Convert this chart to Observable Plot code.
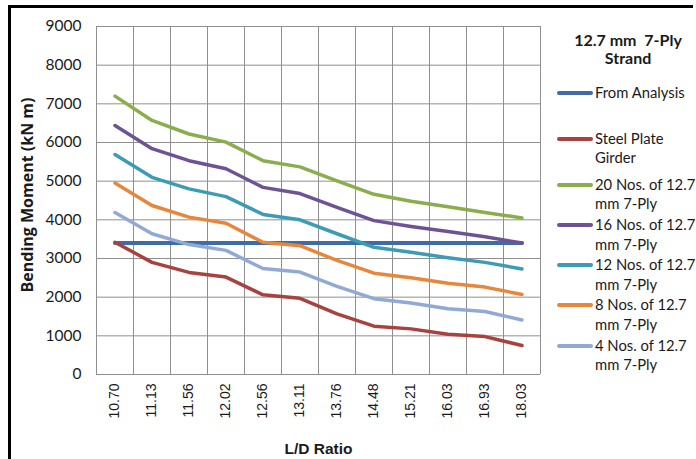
<!DOCTYPE html>
<html>
<head>
<meta charset="utf-8">
<script src="https://cdn.jsdelivr.net/npm/d3@7"></script>
<script src="https://cdn.jsdelivr.net/npm/@observablehq/plot@0.6"></script>
<style>
  html, body { margin: 0; padding: 0; background: #fff; }
  #wrap { position: relative; width: 696px; height: 459px; overflow: hidden; background: #fff; }
  #frame { position: absolute; left: 8px; top: 5px; width: 682px; height: 470px;
           border-left: 3px solid #000; border-top: 3px solid #000; pointer-events: none; }
  #legend { position: absolute; left: 540px; top: 0; width: 156px; height: 459px;
            font-family: Lato, "Open Sans", sans-serif; color: #1a1a1a; }
  #legend .title { position: absolute; left: 10px; width: 156px; text-align: center;
                   font-weight: bold; font-size: 16px; line-height: 19px; }
  #legend .item { position: absolute; left: 55px; font-size: 14.8px; line-height: 19.5px; white-space: nowrap; }
  #legend .sw { position: absolute; left: 17px; width: 36px; height: 4px; border-radius: 2px; }
</style>
</head>
<body>
<div id="wrap">
  <div id="chart"></div>
  <div id="legend"></div>
  <div id="frame"></div>
</div>
<script>
// ---- data ----
const categories = ["10.70","11.13","11.56","12.02","12.56","13.11","13.76","14.48","15.21","16.03","16.93","18.03"];
const yTicks = [0,1000,2000,3000,4000,5000,6000,7000,8000,9000];

const seriesNames = [
  "From Analysis",
  "Steel Plate Girder",
  "20 Nos. of 12.7 mm 7-Ply",
  "16 Nos. of 12.7 mm 7-Ply",
  "12 Nos. of 12.7 mm 7-Ply",
  "8 Nos. of 12.7 mm 7-Ply",
  "4 Nos. of 12.7 mm 7-Ply"
];
const legendLines = [
  ["From Analysis"],
  ["Steel Plate", "Girder"],
  ["20 Nos. of 12.7", "mm 7-Ply"],
  ["16 Nos. of 12.7", "mm 7-Ply"],
  ["12 Nos. of 12.7", "mm 7-Ply"],
  ["8 Nos. of 12.7", "mm 7-Ply"],
  ["4 Nos. of 12.7", "mm 7-Ply"]
];
const seriesColors = ["#3F6CA8","#A8423F","#8BAE4C","#6D5395","#3C9BB5","#E6873C","#91AAD5"];

const fromAnalysis = [3400,3400,3400,3400,3400,3400,3400,3400,3400,3400,3400,3400];
const steelPlate   = [3420,2900,2640,2520,2060,1970,1570,1250,1180,1040,980,750];
const nos20        = [7200,6570,6220,6010,5530,5370,5010,4660,4480,4340,4190,4050];
const nos16        = [6440,5840,5530,5320,4840,4680,4320,3980,3830,3700,3560,3400];
const nos12        = [5690,5100,4800,4600,4140,4000,3640,3290,3160,3020,2900,2730];
const nos8         = [4950,4370,4070,3910,3420,3330,2950,2620,2500,2360,2260,2070];
const nos4         = [4190,3640,3360,3210,2740,2650,2280,1960,1850,1700,1630,1410];

const seriesValues = [fromAnalysis, steelPlate, nos20, nos16, nos12, nos8, nos4];

// ---- build table ----
const rows = [];
seriesValues.forEach((vals, s) => {
  vals.forEach((v, i) => rows.push({series: seriesNames[s], i, v}));
});
const indices = categories.map((_, i) => i);
const boundaries = [-0.5, ...indices.map(i => i + 0.5)];

const plot = Plot.plot({
  width: 696,
  height: 459,
  marginLeft: 96,
  marginRight: 156,
  marginTop: 26,
  marginBottom: 85,
  style: {background: "transparent", color: "#1a1a1a"},
  x: {type: "linear", domain: [-0.5, categories.length - 0.5], axis: null},
  y: {domain: [0, 9000], axis: null},
  color: {domain: seriesNames, range: seriesColors},
  marks: [
    Plot.ruleY(yTicks, {y: d => d, stroke: "#8f8f8f", strokeWidth: 1}),
    Plot.ruleX(boundaries, {x: d => d, stroke: "#8f8f8f", strokeWidth: 1}),
    Plot.axisY(yTicks, {tickSize: 0, tickPadding: 15, fontSize: 15.5, fontFamily: "Lato, 'Open Sans', sans-serif", label: null, tickFormat: d => String(d)}),
    Plot.axisX(indices, {tickSize: 0, tickPadding: 9, tickRotate: -90, fontSize: 14, fontFamily: "'Liberation Sans', Arial, sans-serif", label: null, tickFormat: i => categories[i]}),
    Plot.line(rows, {x: "i", y: "v", z: "series", stroke: "series", strokeWidth: d => d.series === "From Analysis" ? 4 : 3.5, strokeLinejoin: "round", strokeLinecap: "round"}),
    Plot.text(["Bending Moment (kN m)"], {frameAnchor: "left", textAnchor: "middle", lineAnchor: "middle", dx: -69, dy: -5.5, rotate: -90, fontWeight: "bold", fontSize: 16, fontFamily: "'Open Sans', Lato, sans-serif", fill: "#1a1a1a"}),
    Plot.text(["L/D Ratio"], {frameAnchor: "bottom", textAnchor: "middle", lineAnchor: "middle", dy: 75, fontWeight: "bold", fontSize: 15.5, fontFamily: "'Liberation Sans', Arial, sans-serif", fill: "#1a1a1a"})
  ]
});
document.getElementById("chart").appendChild(plot);

// ---- legend ----
const legend = document.getElementById("legend");
const t1 = document.createElement("div"); t1.className = "title"; t1.style.top = "30px"; t1.textContent = "12.7 mm\u00a0 7-Ply"; legend.appendChild(t1);
const t2 = document.createElement("div"); t2.className = "title"; t2.style.top = "48px"; t2.textContent = "Strand"; legend.appendChild(t2);
const entryY = [93, 138.5, 184.5, 225, 265, 305, 345.5];
legendLines.forEach((lines, k) => {
  const sw = document.createElement("div");
  sw.className = "sw";
  sw.style.top = (entryY[k] - 2) + "px";
  sw.style.background = seriesColors[k];
  legend.appendChild(sw);
  lines.forEach((txt, j) => {
    const d = document.createElement("div");
    d.className = "item";
    d.style.top = (entryY[k] - 10 + j * 19.5) + "px";
    d.textContent = txt;
    legend.appendChild(d);
  });
});
</script>
</body>
</html>
